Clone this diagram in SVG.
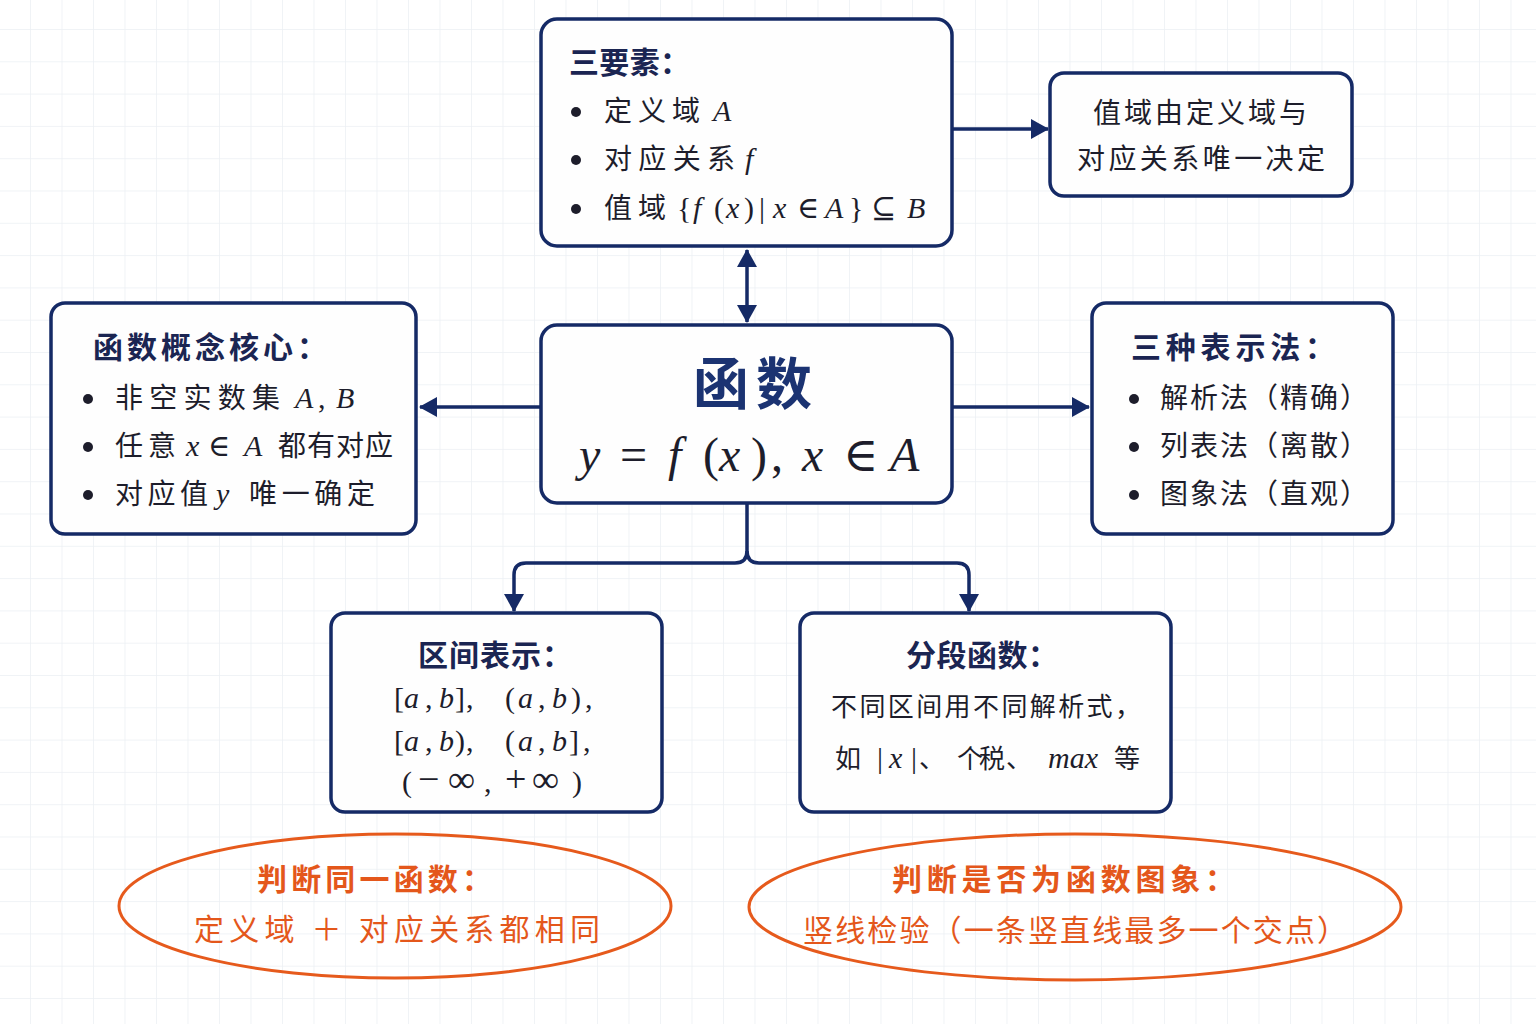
<svg xmlns="http://www.w3.org/2000/svg" width="1536" height="1024" viewBox="0 0 1536 1024">
<style>
.box{fill:#fefefe;stroke:#152a66;stroke-width:3.5}
.ell{fill:none;stroke:#e65a1c;stroke-width:3}
.cn{font-family:"Noto Sans CJK SC","Noto Sans",sans-serif;fill:#1d1d2b;font-size:28px}
.tt{font-family:"Noto Sans CJK SC","Noto Sans",sans-serif;fill:#1b2552;font-size:30px;font-weight:600}
.mt{font-family:"Liberation Serif","DejaVu Serif",serif;font-style:normal;fill:#1d1d2b;font-size:30px}
.m{font-style:italic}
.inf{font-size:38px}
.or{font-family:"Noto Sans CJK SC",sans-serif;fill:#e4571b;font-size:30px}
.dot{fill:#1d1d2b}
.con{fill:none;stroke:#152a66;stroke-width:3.5}
</style>
<defs>
<pattern id="grid" x="30" y="29" width="31.5" height="32.3" patternUnits="userSpaceOnUse">
<path d="M0,0 H31.5 M0,0 V32.3" fill="none" stroke="#eceff4" stroke-width="1.5"/>
</pattern>
<marker id="ah" markerWidth="18" markerHeight="20" refX="17" refY="10" orient="auto-start-reverse" markerUnits="userSpaceOnUse">
<path d="M0,0 L18,10 L0,20 z" fill="#152a66"/>
</marker>
</defs>
<rect width="1536" height="1024" fill="#ffffff"/>
<rect width="1536" height="1024" fill="url(#grid)"/>

<g id="connectors">
<path class="con" d="M952,129 H1048" marker-end="url(#ah)"/>
<path class="con" d="M747,250 V322" marker-start="url(#ah)" marker-end="url(#ah)"/>
<path class="con" d="M541,407 H420" marker-end="url(#ah)"/>
<path class="con" d="M952,407 H1089" marker-end="url(#ah)"/>
<path class="con" d="M747,503 V551 Q747,563 735,563 H526 Q514,563 514,575 V611" marker-end="url(#ah)"/>
<path class="con" d="M747,551 Q747,563 759,563 H957 Q969,563 969,575 V611" marker-end="url(#ah)"/>
</g>

<g id="node-elements">
<rect class="box" x="541" y="19" width="411" height="227" rx="16"/>
<text class="tt" x="569" y="73" textLength="121" lengthAdjust="spacing">三要素：</text>
<circle class="dot" cx="576" cy="112" r="5"/>
<circle class="dot" cx="576" cy="160" r="5"/>
<circle class="dot" cx="576" cy="209" r="5"/>
<text class="cn" x="604" y="121" textLength="96" lengthAdjust="spacing">定义域</text>
<text class="mt m" x="713" y="121">A</text>
<text class="cn" x="604" y="169" textLength="131" lengthAdjust="spacing">对应关系</text>
<text class="mt m" x="745" y="169">f</text>
<text class="cn" x="604" y="218" textLength="62" lengthAdjust="spacing">值域</text>
<text class="mt" y="218"><tspan x="677">{</tspan><tspan class="m" x="693">f</tspan><tspan x="714">(</tspan><tspan class="m" x="726">x</tspan><tspan x="744">)</tspan><tspan x="759">|</tspan><tspan class="m" x="773">x</tspan><tspan x="797">∈</tspan><tspan class="m" x="825">A</tspan><tspan x="849">}</tspan><tspan x="871">⊆</tspan><tspan class="m" x="907">B</tspan></text>
</g>

<g id="node-range">
<rect class="box" x="1050" y="73" width="302" height="123" rx="14"/>
<text class="cn" x="1093" y="123" textLength="214" lengthAdjust="spacing">值域由定义域与</text>
<text class="cn" x="1077" y="169" textLength="248" lengthAdjust="spacing">对应关系唯一决定</text>
</g>

<g id="node-function">
<rect class="box" x="541" y="325" width="411" height="178" rx="16"/>
<text x="693" y="404" font-family="Noto Sans CJK SC,sans-serif" font-size="56" font-weight="700" fill="#1b3372" textLength="119" lengthAdjust="spacing">函数</text>
<text class="mt" y="471" fill="#1a1f3a" style="font-size:48px"><tspan class="m" x="579">y</tspan><tspan x="620">=</tspan><tspan class="m" x="668">f</tspan><tspan x="703">(</tspan><tspan class="m" x="719">x</tspan><tspan x="751">)</tspan><tspan x="771">,</tspan><tspan class="m" x="802">x</tspan><tspan x="843">∈</tspan><tspan class="m" x="890">A</tspan></text>
</g>

<g id="node-core">
<rect class="box" x="51" y="303" width="365" height="231" rx="14"/>
<text class="tt" x="93" y="358" textLength="234" lengthAdjust="spacing">函数概念核心：</text>
<circle class="dot" cx="88" cy="399" r="5"/>
<circle class="dot" cx="88" cy="447" r="5"/>
<circle class="dot" cx="88" cy="495" r="5"/>
<text class="cn" x="115" y="408" textLength="165" lengthAdjust="spacing">非空实数集</text>
<text class="mt" y="408"><tspan class="m" x="295">A</tspan><tspan x="318">,</tspan><tspan class="m" x="336">B</tspan></text>
<text class="cn" x="115" y="456" textLength="61" lengthAdjust="spacing">任意</text>
<text class="mt" y="456"><tspan class="m" x="186">x</tspan><tspan x="208">∈</tspan><tspan class="m" x="244">A</tspan></text>
<text class="cn" x="278" y="456" textLength="115" lengthAdjust="spacing">都有对应</text>
<text class="cn" x="115" y="504" textLength="93" lengthAdjust="spacing">对应值</text>
<text class="mt m" x="216" y="504">y</text>
<text class="cn" x="249" y="504" textLength="126" lengthAdjust="spacing">唯一确定</text>
</g>

<g id="node-representations">
<rect class="box" x="1092" y="303" width="301" height="231" rx="14"/>
<text class="tt" x="1131" y="358" textLength="204" lengthAdjust="spacing">三种表示法：</text>
<circle class="dot" cx="1134" cy="399" r="5"/>
<circle class="dot" cx="1134" cy="447" r="5"/>
<circle class="dot" cx="1134" cy="495" r="5"/>
<text class="cn" x="1160" y="408" textLength="208" lengthAdjust="spacing">解析法（精确）</text>
<text class="cn" x="1160" y="456" textLength="208" lengthAdjust="spacing">列表法（离散）</text>
<text class="cn" x="1160" y="504" textLength="208" lengthAdjust="spacing">图象法（直观）</text>
</g>

<g id="node-interval">
<rect class="box" x="331" y="613" width="331" height="199" rx="14"/>
<text class="tt" x="418" y="666" textLength="154" lengthAdjust="spacing">区间表示：</text>
<text class="mt" y="708"><tspan x="394">[</tspan><tspan class="m" x="404">a</tspan><tspan x="425">,</tspan><tspan class="m" x="439">b</tspan><tspan x="455">]</tspan><tspan x="466">,</tspan><tspan x="505">(</tspan><tspan class="m" x="518">a</tspan><tspan x="538">,</tspan><tspan class="m" x="552">b</tspan><tspan x="571">)</tspan><tspan x="585">,</tspan></text>
<text class="mt" y="751"><tspan x="394">[</tspan><tspan class="m" x="404">a</tspan><tspan x="425">,</tspan><tspan class="m" x="439">b</tspan><tspan x="455">)</tspan><tspan x="466">,</tspan><tspan x="505">(</tspan><tspan class="m" x="518">a</tspan><tspan x="538">,</tspan><tspan class="m" x="552">b</tspan><tspan x="569">]</tspan><tspan x="583">,</tspan></text>
<text class="mt" y="792"><tspan x="402">(</tspan><tspan x="418" class="inf">−</tspan><tspan x="448" class="inf">∞</tspan><tspan x="484">,</tspan><tspan x="505" class="inf">+</tspan><tspan x="532" class="inf">∞</tspan><tspan x="572">)</tspan></text>
</g>

<g id="node-piecewise">
<rect class="box" x="800" y="613" width="371" height="199" rx="14"/>
<text class="tt" x="906" y="666" textLength="152" lengthAdjust="spacing">分段函数：</text>
<text class="cn" x="831" y="716" style="font-size:26px" textLength="310" lengthAdjust="spacing">不同区间用不同解析式，</text>
<text class="cn" x="835" y="768" style="font-size:26px">如</text>
<text class="mt" y="768"><tspan x="877">|</tspan><tspan class="m" x="889">x</tspan><tspan x="911">|</tspan></text>
<text class="cn" x="919" y="768" style="font-size:26px">、</text>
<text class="cn" x="957" y="768" style="font-size:26px" textLength="48" lengthAdjust="spacing">个税</text>
<text class="cn" x="1006" y="768" style="font-size:26px">、</text>
<text class="mt m" x="1048" y="768">max</text>
<text class="cn" x="1114" y="768" style="font-size:26px">等</text>
</g>

<g id="node-same-function">
<ellipse class="ell" cx="395" cy="906" rx="276" ry="72"/>
<text class="or" x="257" y="890" font-weight="700" textLength="235" lengthAdjust="spacing">判断同一函数：</text>
<text class="or" x="194" y="940" textLength="406" lengthAdjust="spacing">定义域 ＋ 对应关系都相同</text>
</g>

<g id="node-graph-test">
<ellipse class="ell" cx="1075" cy="907" rx="326" ry="73"/>
<text class="or" x="892" y="890" font-weight="700" textLength="343" lengthAdjust="spacing">判断是否为函数图象：</text>
<text class="or" x="803" y="941" textLength="544" lengthAdjust="spacing">竖线检验（一条竖直线最多一个交点）</text>
</g>
</svg>
